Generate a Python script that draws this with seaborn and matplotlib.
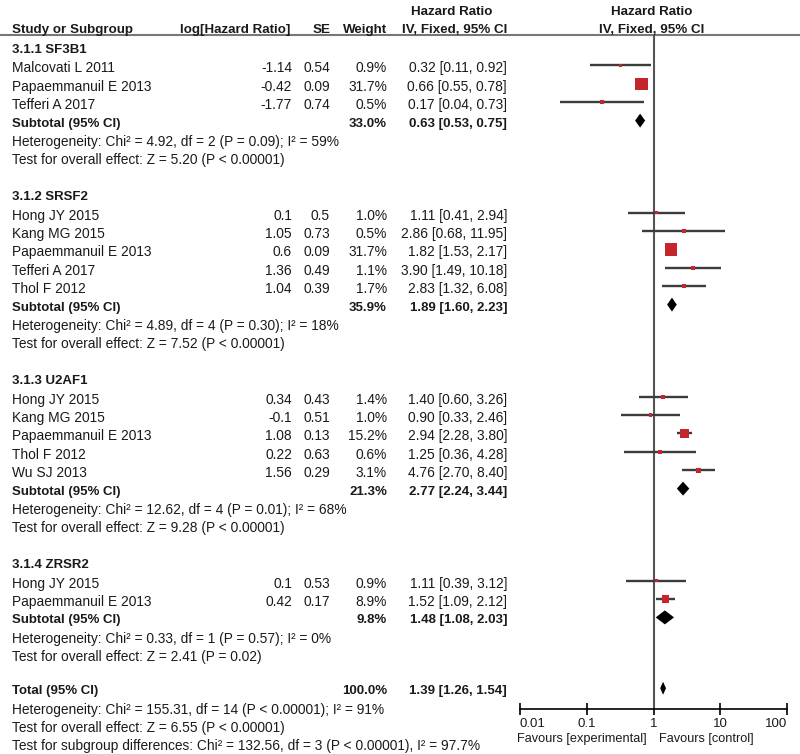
import matplotlib.pyplot as plt
import numpy as np
import pandas as pd
import seaborn as sns

# study level data (as printed in the forest plot)
group_labels = ["3.1.1 SF3B1", "3.1.2 SRSF2", "3.1.3 U2AF1", "3.1.4 ZRSR2"]
studies = [
    "Malcovati L 2011", "Papaemmanuil E 2013", "Tefferi A 2017",
    "Hong JY 2015", "Kang MG 2015", "Papaemmanuil E 2013", "Tefferi A 2017", "Thol F 2012",
    "Hong JY 2015", "Kang MG 2015", "Papaemmanuil E 2013", "Thol F 2012", "Wu SJ 2013",
    "Hong JY 2015", "Papaemmanuil E 2013",
]
study_group = [0, 0, 0, 1, 1, 1, 1, 1, 2, 2, 2, 2, 2, 3, 3]
log_hr = [-1.14, -0.42, -1.77, 0.1, 1.05, 0.6, 1.36, 1.04, 0.34, -0.1, 1.08, 0.22, 1.56, 0.1, 0.42]
se = [0.54, 0.09, 0.74, 0.5, 0.73, 0.09, 0.49, 0.39, 0.43, 0.51, 0.13, 0.63, 0.29, 0.53, 0.17]
weight = [0.9, 31.7, 0.5, 1.0, 0.5, 31.7, 1.1, 1.7, 1.4, 1.0, 15.2, 0.6, 3.1, 0.9, 8.9]
hr = [0.32, 0.66, 0.17, 1.11, 2.86, 1.82, 3.90, 2.83, 1.40, 0.90, 2.94, 1.25, 4.76, 1.11, 1.52]
hr_lo = [0.11, 0.55, 0.04, 0.41, 0.68, 1.53, 1.49, 1.32, 0.60, 0.33, 2.28, 0.36, 2.70, 0.39, 1.09]
hr_hi = [0.92, 0.78, 0.73, 2.94, 11.95, 2.17, 10.18, 6.08, 3.26, 2.46, 3.80, 4.28, 8.40, 3.12, 2.12]

# subgroup totals
sub_weight = [33.0, 35.9, 21.3, 9.8]
sub_hr = [0.63, 1.89, 2.77, 1.48]
sub_lo = [0.53, 1.60, 2.24, 1.08]
sub_hi = [0.75, 2.23, 3.44, 2.03]
sub_het = [
    "Heterogeneity: Chi² = 4.92, df = 2 (P = 0.09); I² = 59%",
    "Heterogeneity: Chi² = 4.89, df = 4 (P = 0.30); I² = 18%",
    "Heterogeneity: Chi² = 12.62, df = 4 (P = 0.01); I² = 68%",
    "Heterogeneity: Chi² = 0.33, df = 1 (P = 0.57); I² = 0%",
]
sub_effect = [
    "Test for overall effect: Z = 5.20 (P < 0.00001)",
    "Test for overall effect: Z = 7.52 (P < 0.00001)",
    "Test for overall effect: Z = 9.28 (P < 0.00001)",
    "Test for overall effect: Z = 2.41 (P = 0.02)",
]

# overall
total_weight = 100.0
total_hr = 1.39
total_lo = 1.26
total_hi = 1.54
total_notes = [
    "Heterogeneity: Chi² = 155.31, df = 14 (P < 0.00001); I² = 91%",
    "Test for overall effect: Z = 6.55 (P < 0.00001)",
    "Test for subgroup differences: Chi² = 132.56, df = 3 (P < 0.00001), I² = 97.7%",
]

axis_ticks = [0.01, 0.1, 1, 10, 100]
axis_ticklabels = ["0.01", "0.1", "1", "10", "100"]

sns.set_theme(style="white")
plt.rcParams["font.family"] = ["Liberation Sans", "DejaVu Sans"]

FS = 9.9
FSB = 9.5
TXT = "#1a1a1a"
RED = "#c4262b"
LINE = "#3c3c3c"

fig = plt.figure(figsize=(8, 7.54), dpi=100)
ax = fig.add_axes([0, 0, 1, 1])
ax.set_xlim(0, 800)
ax.set_ylim(754, 0)
ax.axis("off")

# forest panel: pixel rows on y, log hazard ratio on x
top, bottom = 35, 709
ax_f = fig.add_axes([520 / 800, 1 - bottom / 754, 267 / 800, (bottom - top) / 754])
ax_f.set_xscale("log")
ax_f.set_xlim(0.01, 100)
ax_f.set_ylim(bottom, top)
ax_f.patch.set_alpha(0)
for s in ["top", "left", "right"]:
    ax_f.spines[s].set_visible(False)
ax_f.spines["bottom"].set_color("black")
ax_f.spines["bottom"].set_linewidth(1.2)
ax_f.set_yticks([])
ax_f.set_xticks(axis_ticks)
ax_f.set_xticklabels(axis_ticklabels, fontsize=9.5, color=TXT)
ax_f.xaxis.set_minor_locator(plt.NullLocator())
ax_f.tick_params(axis="x", direction="inout", length=9, width=1.2, color="black", pad=2, bottom=True)
tl = ax_f.get_xticklabels()
tl[0].set_horizontalalignment("left")
tl[-1].set_horizontalalignment("right")
ax_f.axvline(1, color="#555555", lw=1.5, zorder=1)

# header
ax.axhline(35, color="#777777", lw=1.5)
hkw = dict(fontsize=9.6, fontweight="bold", color=TXT, va="center")
ax.text(12, 30, "Study or Subgroup", ha="left", **hkw)
ax.text(290, 30, "log[Hazard Ratio]", ha="right", **hkw)
ax.text(330, 30, "SE", ha="right", **hkw)
ax.text(387, 30, "Weight", ha="right", **hkw)
ax.text(452, 12, "Hazard Ratio", ha="center", **hkw)
ax.text(455, 30, "IV, Fixed, 95% CI", ha="center", **hkw)
ax.text(652, 12, "Hazard Ratio", ha="center", **hkw)
ax.text(652, 30, "IV, Fixed, 95% CI", ha="center", **hkw)

y0, dy = 50, 18.4
MOFF = -3  # marker sits slightly above text centre


def put(y, name, logv="", sev="", w="", ci="", bold=False):
    fw = "bold" if bold else "normal"
    fs = FSB if bold else FS
    ax.text(12, y, name, ha="left", va="center", fontsize=fs, fontweight=fw, color=TXT)
    ax.text(292, y, logv, ha="right", va="center", fontsize=FS, color=TXT)
    ax.text(330, y, sev, ha="right", va="center", fontsize=FS, color=TXT)
    ax.text(387, y, w, ha="right", va="center", fontsize=fs, fontweight=fw, color=TXT)
    ax.text(507, y, ci, ha="right", va="center", fontsize=fs, fontweight=fw, color=TXT)


def diamond(y, m, lo, hi, h=7):
    ax_f.fill([lo, m, hi, m], [y, y - h, y, y + h], color="black", lw=0, zorder=4)


row = 0
marker_y = [0.0] * len(studies)
for g, label in enumerate(group_labels):
    put(y0 + row * dy, label, bold=True)
    row += 1
    for i, name in enumerate(studies):
        if study_group[i] != g:
            continue
        y = y0 + row * dy
        put(y, name, f"{log_hr[i]:g}", f"{se[i]:g}", f"{weight[i]:.1f}%",
            f"{hr[i]:.2f} [{hr_lo[i]:.2f}, {hr_hi[i]:.2f}]")
        marker_y[i] = y + MOFF
        row += 1
    y = y0 + row * dy
    put(y, "Subtotal (95% CI)", w=f"{sub_weight[g]:.1f}%",
        ci=f"{sub_hr[g]:.2f} [{sub_lo[g]:.2f}, {sub_hi[g]:.2f}]", bold=True)
    diamond(y + MOFF, sub_hr[g], sub_lo[g], sub_hi[g])
    row += 1
    put(y0 + row * dy, sub_het[g])
    row += 1
    put(y0 + row * dy, sub_effect[g])
    row += 2

row -= 0.15
y = y0 + row * dy
put(y, "Total (95% CI)", w=f"{total_weight:.1f}%",
    ci=f"{total_hr:.2f} [{total_lo:.2f}, {total_hi:.2f}]", bold=True)
diamond(y + MOFF, total_hr, total_lo, total_hi, h=6.5)
for note in total_notes:
    row += 1
    put(y0 + row * dy, note)

# study CIs and weighted squares
ax_f.hlines(marker_y, hr_lo, hr_hi, color=LINE, lw=1.7, zorder=2)
df = pd.DataFrame({"hr": hr, "y": marker_y, "weight": weight})
sns.scatterplot(data=df, x="hr", y="y", size="weight", sizes=(6, 80), marker="s",
                color=RED, edgecolor=RED, linewidth=0, legend=False, zorder=3, ax=ax_f)
ax_f.set_xlabel("")
ax_f.set_ylabel("")
ax_f.set_ylim(bottom, top)

ax.text(647, 739, "Favours [experimental]", ha="right", va="center", fontsize=9.2, color=TXT)
ax.text(659, 739, "Favours [control]", ha="left", va="center", fontsize=9.2, color=TXT)

fig.savefig("out.png", dpi=100)
